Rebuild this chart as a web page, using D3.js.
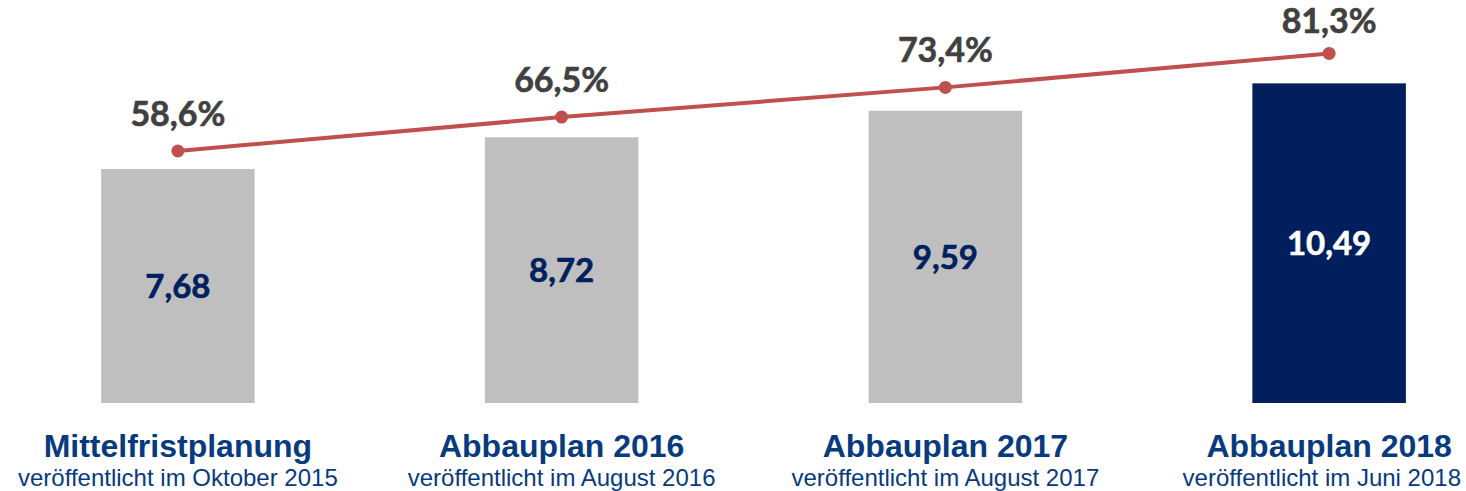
<!DOCTYPE html>
<html>
<head>
<meta charset="utf-8">
<script src="https://cdn.jsdelivr.net/npm/d3@7"></script>
<style>
  html, body { margin: 0; padding: 0; background: #ffffff; }
  .chart { width: 1466px; height: 491px; overflow: hidden; }
</style>
</head>
<body>
<div class="chart"></div>
<script>
'use strict';

// Data
var titles    = ['Mittelfristplanung', 'Abbauplan 2016', 'Abbauplan 2017', 'Abbauplan 2018'];
var subtitles = ['veröffentlicht im Oktober 2015', 'veröffentlicht im August 2016',
                 'veröffentlicht im August 2017', 'veröffentlicht im Juni 2018'];
var values    = [7.68, 8.72, 9.59, 10.49];
var shares    = [58.6, 66.5, 73.4, 81.3];

var width  = 1466,
    height = 491,
    base   = 403;

var fmtNum = function(v) { return d3.format('.2f')(v).replace('.', ','); };
var fmtPct = function(v) { return d3.format('.1f')(v).replace('.', ',') + '%'; };

var svg = d3.select('.chart')
  .append('svg')
  .attr('width', width)
  .attr('height', height);

var x = d3.scaleBand()
  .domain(titles)
  .range([-14, 1521])
  .paddingInner(0.6)
  .paddingOuter(0.3);

var y = d3.scaleLinear()
  .domain([0, 10])
  .range([base, base - 304.7]);

var yPct = d3.scaleLinear()
  .domain([0, 100])
  .range([base, base - 430]);

var cx = function(d) { return x(d) + x.bandwidth() / 2; };

// Bars
svg.selectAll('rect.bar')
  .data(values).enter()
  .append('rect')
    .attr('class', 'bar')
    .attr('x', function(d, i) { return x(titles[i]); })
    .attr('y', function(d) { return y(d); })
    .attr('width', x.bandwidth())
    .attr('height', function(d) { return y(0) - y(d); })
    .style('fill', function(d, i) { return i === values.length - 1 ? '#001f5c' : '#bfbfbf'; });

// Bar values
svg.selectAll('text.val')
  .data(values).enter()
  .append('text')
    .attr('class', 'val')
    .attr('x', function(d, i) { return cx(titles[i]); })
    .attr('y', function(d) { return (y(d) + y(0)) / 2 + 12; })
    .attr('text-anchor', 'middle')
    .style('font-family', 'Lato, "Open Sans", sans-serif')
    .style('font-weight', 'bold')
    .style('font-size', '33px')
    .style('fill', function(d, i) { return i === values.length - 1 ? '#ffffff' : '#002060'; })
    .style('stroke', function(d, i) { return i === values.length - 1 ? '#ffffff' : '#002060'; })
    .style('stroke-width', 0.6)
    .text(fmtNum);

// Share line
var line = d3.line()
  .x(function(d, i) { return cx(titles[i]); })
  .y(function(d) { return yPct(d); });

svg.append('path')
  .datum(shares)
  .attr('d', line)
  .style('fill', 'none')
  .style('stroke', '#c0504d')
  .style('stroke-width', 4);

svg.selectAll('circle.pt')
  .data(shares).enter()
  .append('circle')
    .attr('class', 'pt')
    .attr('cx', function(d, i) { return cx(titles[i]); })
    .attr('cy', function(d) { return yPct(d); })
    .attr('r', 6.5)
    .style('fill', '#c0504d');

svg.selectAll('text.pct')
  .data(shares).enter()
  .append('text')
    .attr('class', 'pct')
    .attr('x', function(d, i) { return cx(titles[i]); })
    .attr('y', function(d) { return Math.max(yPct(d) - 25, 33); })
    .attr('text-anchor', 'middle')
    .style('font-family', 'Lato, "Open Sans", sans-serif')
    .style('font-weight', 'bold')
    .style('font-size', '34px')
    .style('fill', '#404040')
    .style('stroke', '#404040')
    .style('stroke-width', 0.6)
    .text(fmtPct);

// Category labels
svg.selectAll('text.title')
  .data(titles).enter()
  .append('text')
    .attr('class', 'title cat')
    .attr('x', function(d) { return cx(d); })
    .attr('y', 457)
    .attr('text-anchor', 'middle')
    .style('font-family', '"Liberation Sans", Arial, sans-serif')
    .style('font-weight', 'bold')
    .style('font-size', '32px')
    .style('fill', '#083a7e')
    .text(function(d) { return d; });

svg.selectAll('text.sub')
  .data(subtitles).enter()
  .append('text')
    .attr('class', 'sub cat')
    .attr('x', function(d, i) { return cx(titles[i]); })
    .attr('y', 486)
    .attr('text-anchor', 'middle')
    .style('font-family', '"Liberation Sans", Arial, sans-serif')
    .style('font-size', '24px')
    .style('fill', '#083a7e')
    .text(function(d) { return d; });

// Keep labels inside the right edge
svg.selectAll('text.cat').each(function() {
  var b = this.getBBox();
  var over = b.x + b.width - (width - 5);
  if (over > 0) {
    d3.select(this).attr('x', +d3.select(this).attr('x') - over);
  }
});
</script>
</body>
</html>
